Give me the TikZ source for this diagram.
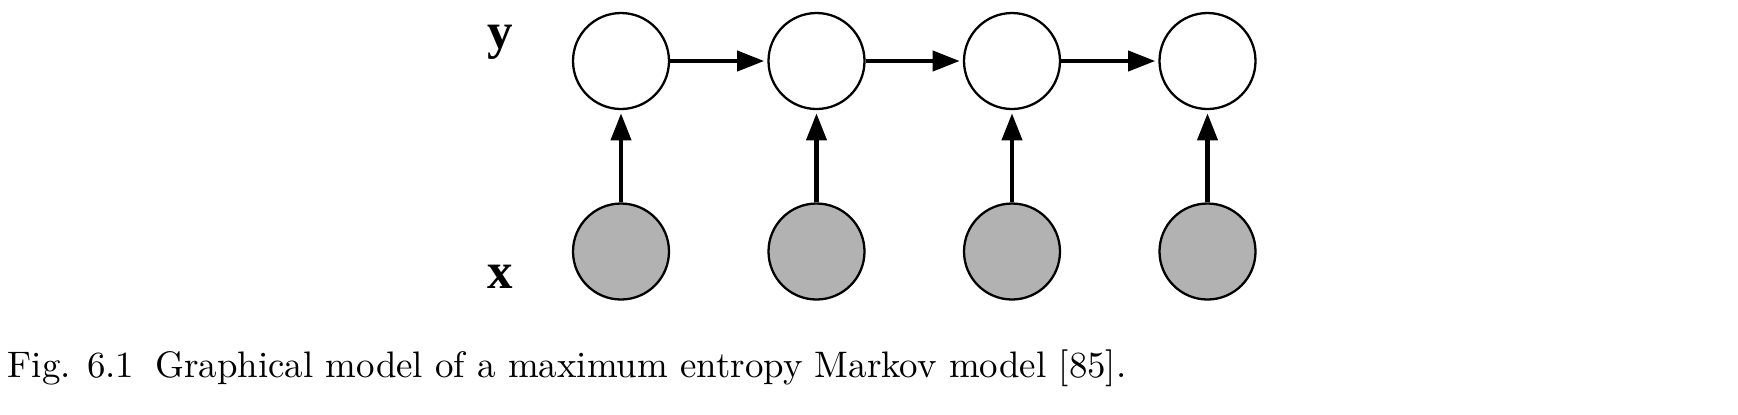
\documentclass[tikz,border=0pt]{standalone}
\usepackage{fontspec}
\newfontfamily\labelfont{Liberation Serif}
\usetikzlibrary{arrows.meta}
\begin{document}
\begin{tikzpicture}[x=0.2846pt,y=-0.2846pt,
  hidden/.style={circle,draw,line width=0.65pt,minimum size=96*0.2846pt,inner sep=0pt,fill=white},
  observed/.style={hidden,fill=black!30},
  edge/.style={line width=1.15pt,-{Triangle[length=7.7pt,width=5.7pt]},shorten >=0.9pt},
  lbl/.style={font=\labelfont\bfseries\fontsize{14.5}{14.5}\selectfont,anchor=base,inner sep=0pt},
  captext/.style={font=\fontsize{10.5}{12}\selectfont,anchor=base west,inner sep=0pt}]
\useasboundingbox (0,0) rectangle (1738,414);
\foreach \i/\x in {1/621,2/816.5,3/1012,4/1207.5}{
  \node[hidden] (y\i) at (\x,61) {};
  \node[observed] (x\i) at (\x,251.5) {};
}
\foreach \i in {1,...,4}{
  \draw[edge] (x\i) -- (y\i);
}
\draw[edge] (y1) -- (y2);
\draw[edge] (y2) -- (y3);
\draw[edge] (y3) -- (y4);
\node[lbl] (ly) at (500,48) {y};
\node[lbl] (lx) at (500,288) {x};
\node[captext] (caption) at (7,377) {Fig. 6.1\hspace{6pt}Graphical model of a maximum entropy Markov model [85].};
\end{tikzpicture}
\end{document}
